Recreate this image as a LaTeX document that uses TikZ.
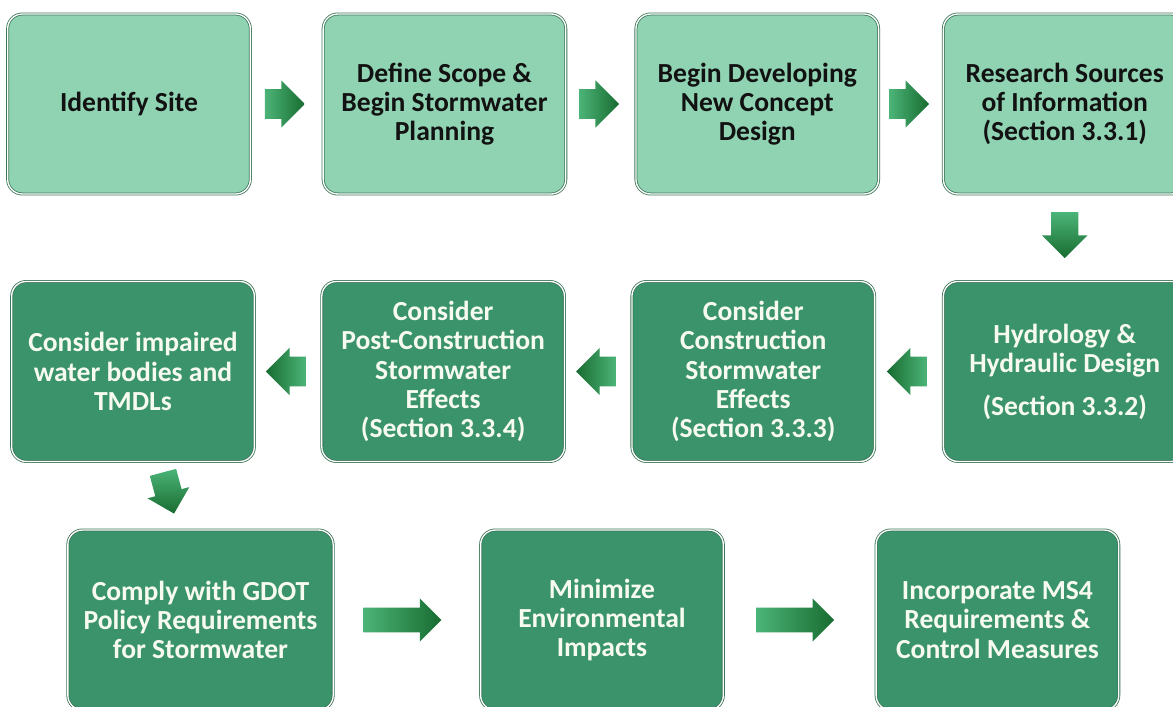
\documentclass[tikz,border=0pt]{standalone}
\usepackage{fontspec}
\setmainfont{Carlito}
\usetikzlibrary{shapes.arrows,positioning,calc}

\definecolor{paleleaf}{RGB}{143,211,178}
\definecolor{deepleaf}{RGB}{58,147,107}
\definecolor{edgeleaf}{RGB}{60,118,88}
\definecolor{arrowlight}{RGB}{76,180,120}
\definecolor{arrowdark}{RGB}{24,108,48}
\definecolor{inkdark}{RGB}{18,18,18}
\definecolor{inklight}{RGB}{246,250,240}

\begin{document}
\begin{tikzpicture}[x=0.75pt,y=-0.75pt,node distance=50pt,
    box/.style={rectangle,rounded corners=11pt,draw=edgeleaf,double=white,
      double distance=1pt,line width=0.6pt,minimum width=182pt,
      minimum height=135pt,align=center,
      font=\fontsize{20.7}{22}\selectfont\bfseries},
    lightbox/.style={box,fill=paleleaf,text=inkdark},
    darkbox/.style={box,fill=deepleaf,text=inklight},
    blockarrow/.style={single arrow,draw=none,inner xsep=0pt,outer sep=0pt},
    rowarrow/.style={blockarrow,inner ysep=11pt,single arrow head extend=6.5pt,
      minimum height=30pt},
    longarrow/.style={blockarrow,inner ysep=9pt,single arrow head extend=7pt,
      minimum height=58.5pt,left color=arrowlight,right color=arrowdark,
      xshift=-8pt},
    downarrow/.style={blockarrow,inner sep=10pt,single arrow head extend=7pt,
      minimum height=34.5pt,shape border rotate=270,yshift=7pt,
      top color=arrowlight,bottom color=arrowdark}]

  \fill[white] (0,0) rectangle (1173,706);
  \useasboundingbox (0,0) rectangle (1173,706);

  % first row
  \node[lightbox] (s1) at (129,104)       {Identify Site};
  \node[lightbox] (s2) [right=54pt of s1] {Define Scope \&\\Begin Stormwater\\Planning};
  \node[lightbox] (s3) [right=52pt of s2] {Begin Developing\\New Concept\\Design};
  \node[lightbox] (s4) [right=48pt of s3] {Research Sources\\of Information\\(Section 3.3.1)};

  % second row, right to left
  \node[darkbox]  (s5) [below=65pt of s4] {Hydrology \&\\Hydraulic Design\\[10pt](Section 3.3.2)};
  \node[darkbox]  (s6) [left=51pt of s5]  {Consider\\Construction\\Stormwater\\Effects\\(Section 3.3.3)};
  \node[darkbox]  (s7) [left=50pt of s6]  {Consider\\Post-Construction\\Stormwater\\Effects\\(Section 3.3.4)};
  \node[darkbox]  (s8) [left=50pt of s7]  {Consider impaired\\water bodies and\\TMDLs};

  % third row
  \node[darkbox,minimum width=199pt] (s9) at (200.5,620) {Comply with GDOT\\Policy Requirements\\for Stormwater};
  \node[darkbox]  (s10) [right=110pt of s9]  {Minimize\\Environmental\\Impacts};
  \node[darkbox]  (s11) [right=114pt of s10] {Incorporate MS4\\Requirements \&\\Control Measures};

  % block arrows
  \node[rowarrow,xshift=-7pt,left color=arrowlight,right color=arrowdark] (a12) at ($(s1.east)!0.5!(s2.west)$) {};
  \node[rowarrow,xshift=-7pt,left color=arrowlight,right color=arrowdark] (a23) at ($(s2.east)!0.5!(s3.west)$) {};
  \node[rowarrow,xshift=-7pt,left color=arrowlight,right color=arrowdark] (a34) at ($(s3.east)!0.5!(s4.west)$) {};
  \node[downarrow] (a45) at ($(s4.south)!0.5!(s5.north)$) {};
  \node[rowarrow,xshift=4pt,shape border rotate=180,left color=arrowdark,right color=arrowlight] (a56) at ($(s5.west)!0.5!(s6.east)$) {};
  \node[rowarrow,xshift=4pt,shape border rotate=180,left color=arrowdark,right color=arrowlight] (a67) at ($(s6.west)!0.5!(s7.east)$) {};
  \node[rowarrow,xshift=4pt,shape border rotate=180,left color=arrowdark,right color=arrowlight] (a78) at ($(s7.west)!0.5!(s8.east)$) {};
  \node[downarrow,minimum height=32pt,single arrow head extend=6pt,
        rotate=15] (a89) at ($(s8.south)!0.5!(s9.north)$) {};
  \node[longarrow] (a910)  at ($(s9.east)!0.5!(s10.west)$)  {};
  \node[longarrow] (a1011) at ($(s10.east)!0.5!(s11.west)$) {};
\end{tikzpicture}
\end{document}
